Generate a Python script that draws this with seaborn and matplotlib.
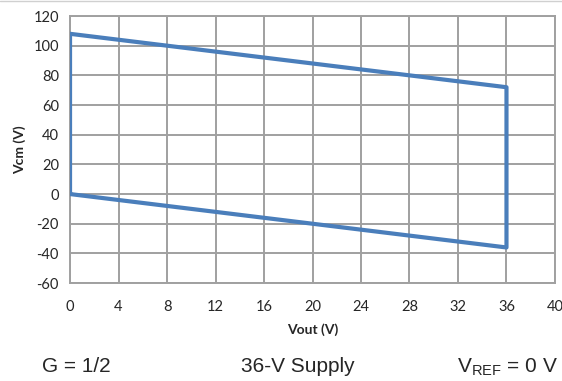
import seaborn as sns
import pandas as pd
import numpy as np
import matplotlib.pyplot as plt

# boundary of the common-mode region (closed polygon)
vout = [0, 0, 36, 36, 0]
vcm = [0, 108, 72, -36, 0]
xticks = list(range(0, 41, 4))
yticks = list(range(-60, 121, 20))

sns.set_style("white")
plt.rcParams['font.family'] = ['Lato', 'DejaVu Sans']
plt.rcParams['axes.unicode_minus'] = False

df = pd.DataFrame({'Vout': vout, 'Vcm': vcm})

fig = plt.figure(figsize=(5.62, 3.81), dpi=100)
ax = fig.add_axes([0.1246, 0.257, 0.8629, 0.701])
grid_c = '#A0A0A0'

sns.lineplot(data=df, x='Vout', y='Vcm', sort=False, estimator=None,
             color='#4A7EBB', linewidth=3.0, ax=ax, zorder=3)

ax.set_xlim(0, 40)
ax.set_ylim(-60, 120)
ax.set_xticks(xticks)
ax.set_yticks(yticks)
ax.grid(True, color=grid_c, linewidth=1.4)
for s in ax.spines.values():
    s.set_color(grid_c)
    s.set_linewidth(1.4)
ax.tick_params(length=0, labelsize=10.5)
ax.tick_params(axis='x', pad=12)
ax.tick_params(axis='y', pad=8)
ax.set_xlabel('Vout (V)', fontsize=10, fontweight='bold', labelpad=7)
ax.set_ylabel('Vcm (V)', fontsize=10, fontweight='bold', labelpad=5)

fig.text(0.135, 0.037, 'G = 1/2', fontsize=15, family='Liberation Sans',
         ha='center', va='center')
fig.text(0.530, 0.037, '36-V Supply', fontsize=15, family='Liberation Sans',
         ha='center', va='center')
fig.text(0.993, 0.037, r'V$_{\mathregular{REF}}$ = 0 V', fontsize=15,
         family='Liberation Sans', ha='right', va='center')

fig.add_artist(plt.Line2D([0, 1], [0.998, 0.998], color='#D0D0D0', linewidth=1))

plt.savefig('out.png', dpi=100)
